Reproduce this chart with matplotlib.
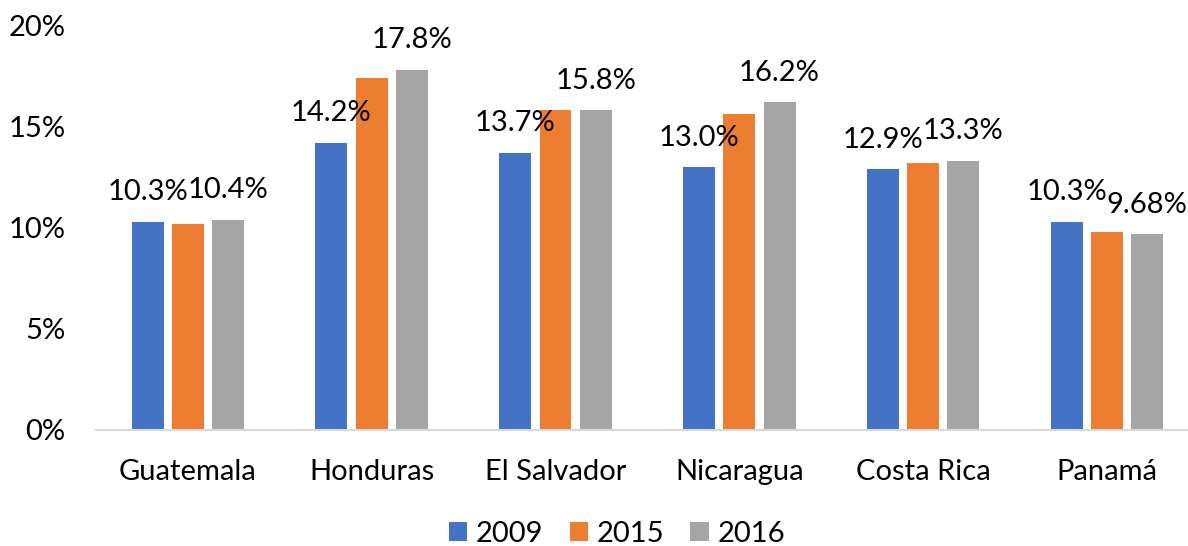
import matplotlib
matplotlib.use("Agg")
import matplotlib.pyplot as plt
import numpy as np

categories = ["Guatemala", "Honduras", "El Salvador", "Nicaragua", "Costa Rica", "Panamá"]
years = ["2009", "2015", "2016"]
v2009 = [10.3, 14.2, 13.7, 13.0, 12.9, 10.3]
v2015 = [10.2, 17.4, 15.8, 15.6, 13.2, 9.8]
v2016 = [10.4, 17.8, 15.8, 16.2, 13.3, 9.68]
labels2009 = ["10.3%", "14.2%", "13.7%", "13.0%", "12.9%", "10.3%"]
labels2016 = ["10.4%", "17.8%", "15.8%", "16.2%", "13.3%", "9.68%"]
colors = ["#4472C4", "#ED7D31", "#A5A5A5"]
yticks = [0, 5, 10, 15, 20]
ytick_labels = ["0%", "5%", "10%", "15%", "20%"]

plt.rcParams["font.family"] = ["Lato", "DejaVu Sans"]
FS = 21

fig = plt.figure(figsize=(11.88, 5.46), dpi=100)
ax = fig.add_axes([96 / 1188, 1 - 430 / 546, 1 - 96 / 1188, (430 - 25.5) / 546])

x = np.arange(len(categories))
w = 0.174
off = 0.219
series = [v2009, v2015, v2016]
bars = []
for i, (vals, c, yr) in enumerate(zip(series, colors, years)):
    b = ax.bar(x + (i - 1) * off, vals, width=w, color=c, label=yr, zorder=2)
    bars.append(b)

for rects, labs in ((bars[0], labels2009), (bars[2], labels2016)):
    for r, t in zip(rects, labs):
        ax.annotate(t, (r.get_x() + r.get_width() / 2, r.get_height()),
                    xytext=(0, 15.5), textcoords="offset points",
                    ha="center", va="baseline", fontsize=FS, color="black", zorder=3)

ax.set_xlim(-0.5, -0.5 + 1092 / 183.8)
ax.set_ylim(0, 20)
ax.set_yticks(yticks)
ax.set_yticklabels(ytick_labels)
ax.set_xticks(x)
ax.set_xticklabels(categories)
ax.tick_params(axis="both", length=0, labelsize=FS, colors="black")
ax.tick_params(axis="y", pad=22)
ax.tick_params(axis="x", pad=21)
for s in ["top", "right", "left"]:
    ax.spines[s].set_visible(False)
ax.spines["bottom"].set_color("#D9D9D9")
ax.spines["bottom"].set_linewidth(1.5)
ax.spines["bottom"].set_zorder(3)

fig.legend(loc="center", bbox_to_anchor=(617 / 1188, 1 - 534 / 546), ncol=3,
           frameon=False, fontsize=FS, handlelength=0.62, handleheight=0.62,
           handletextpad=0.3, columnspacing=0.9, borderpad=0, borderaxespad=0)

fig.savefig("out.png", dpi=100)
